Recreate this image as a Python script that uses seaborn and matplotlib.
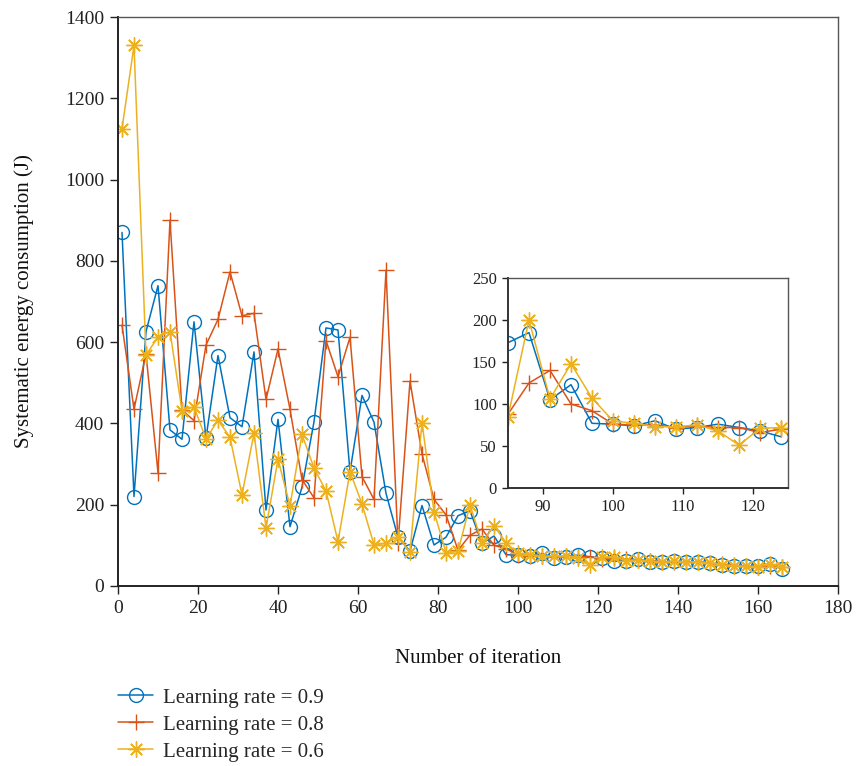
import numpy as np
import pandas as pd
import matplotlib
matplotlib.use("Agg")
import matplotlib.pyplot as plt
import seaborn as sns

# Iterations sampled every third step
iterations = np.arange(1, 167, 3)

# Systematic energy consumption (J) for each learning rate
energy_lr09 = [870, 220, 626, 739, 384, 361, 650, 364, 567, 414, 392, 576,
               187, 410, 146, 243, 404, 635, 630, 281, 469, 403, 228, 120,
               86, 198, 101, 120, 173, 185, 105, 123, 77, 76, 74, 80,
               70, 72, 76, 72, 68, 61, 62, 66, 58, 58, 61, 58,
               60, 56, 52, 50, 48, 48, 55, 42]
energy_lr08 = [642, 435, 571, 279, 900, 433, 407, 593, 656, 773, 665, 671,
               459, 583, 435, 262, 217, 604, 515, 612, 269, 213, 777, 105,
               504, 325, 213, 175, 88, 125, 140, 100, 92, 76, 75, 75,
               72, 74, 72, 72, 66, 70, 66, 64, 62, 60, 58, 58,
               60, 56, 53, 51, 48, 47, 50, 47]
energy_lr06 = [1125, 1330, 568, 613, 626, 431, 441, 362, 408, 366, 224, 376,
               143, 312, 197, 373, 290, 234, 109, 281, 202, 101, 105, 121,
               84, 402, 183, 82, 85, 200, 106, 148, 107, 80, 77, 73,
               73, 75, 68, 51, 71, 72, 62, 64, 61, 58, 61, 58,
               60, 56, 52, 50, 48, 47, 53, 46]

series_labels = ["Learning rate = 0.9", "Learning rate = 0.8", "Learning rate = 0.6"]
series_colors = ["#0072BD", "#D95319", "#EDB120"]
series_markers = ["o", "+", (8, 2, 0)]

x_ticks = list(range(0, 181, 20))
y_ticks = list(range(0, 1401, 200))
inset_x_ticks = [90, 100, 110, 120]
inset_y_ticks = [0, 50, 100, 150, 200, 250]
inset_range = (85, 125)

sns.set_style("white")
plt.rcParams["font.family"] = ["Liberation Serif", "DejaVu Serif"]

df = pd.DataFrame({
    "iteration": iterations,
    series_labels[0]: energy_lr09,
    series_labels[1]: energy_lr08,
    series_labels[2]: energy_lr06,
})

fig = plt.figure(figsize=(8.56, 7.66), dpi=100)
ax = fig.add_axes([118 / 856, 1 - 586 / 766, 720 / 856, 569 / 766])
ax_in = fig.add_axes([508 / 856, 1 - 488 / 766, 280 / 856, 210 / 766])

inset_df = df[(df["iteration"] >= inset_range[0]) & (df["iteration"] <= inset_range[1])]


def draw_series(axis, data, with_label):
    for lab, col, mk in zip(series_labels, series_colors, series_markers):
        msize = 10 if mk == "o" else 11.5
        sns.lineplot(data=data, x="iteration", y=lab, ax=axis, color=col,
                     marker=mk, markersize=msize, mfc="none", mec=col, mew=1.0,
                     linewidth=1.1, label=lab if with_label else None,
                     legend=with_label)


draw_series(ax, df, True)
draw_series(ax_in, inset_df, False)

# Main axes
ax.set_xlim(0, 180)
ax.set_ylim(0, 1400)
ax.set_xticks(x_ticks)
ax.set_yticks(y_ticks)
ax.tick_params(axis="both", direction="out", length=6, width=1.0,
               labelsize=14, colors="#222222", pad=4, bottom=True, left=True)
ax.set_xlabel("Number of iteration", fontsize=15, labelpad=23, color="#111111")
ax.set_ylabel("Systematic energy consumption (J)", fontsize=15, labelpad=22,
              color="#111111")
for side, sp in ax.spines.items():
    sp.set_visible(True)
    sp.set_linewidth(1.4 if side in ("left", "bottom") else 1.0)
    sp.set_color("#222222" if side in ("left", "bottom") else "#555555")

handles, labels = ax.get_legend_handles_labels()
if ax.get_legend() is not None:
    ax.get_legend().remove()
fig.legend(handles, labels, loc="upper left",
           bbox_to_anchor=(118 / 856, 1 - 688 / 766), frameon=False,
           fontsize=15, handlelength=1.7, handletextpad=0.45,
           labelspacing=0.36, borderpad=0, borderaxespad=0)

# Inset axes
ax_in.set_xlim(*inset_range)
ax_in.set_ylim(0, 250)
ax_in.set_xticks(inset_x_ticks)
ax_in.set_yticks(inset_y_ticks)
ax_in.set_xlabel("")
ax_in.set_ylabel("")
ax_in.tick_params(axis="both", direction="out", length=4, width=1.0,
                  labelsize=12, colors="#222222", pad=4, bottom=True, left=True)
for side, sp in ax_in.spines.items():
    sp.set_visible(True)
    sp.set_linewidth(1.4 if side in ("left", "bottom") else 1.0)
    sp.set_color("#333333" if side in ("left", "bottom") else "#555555")

fig.savefig("out.png", dpi=100)
